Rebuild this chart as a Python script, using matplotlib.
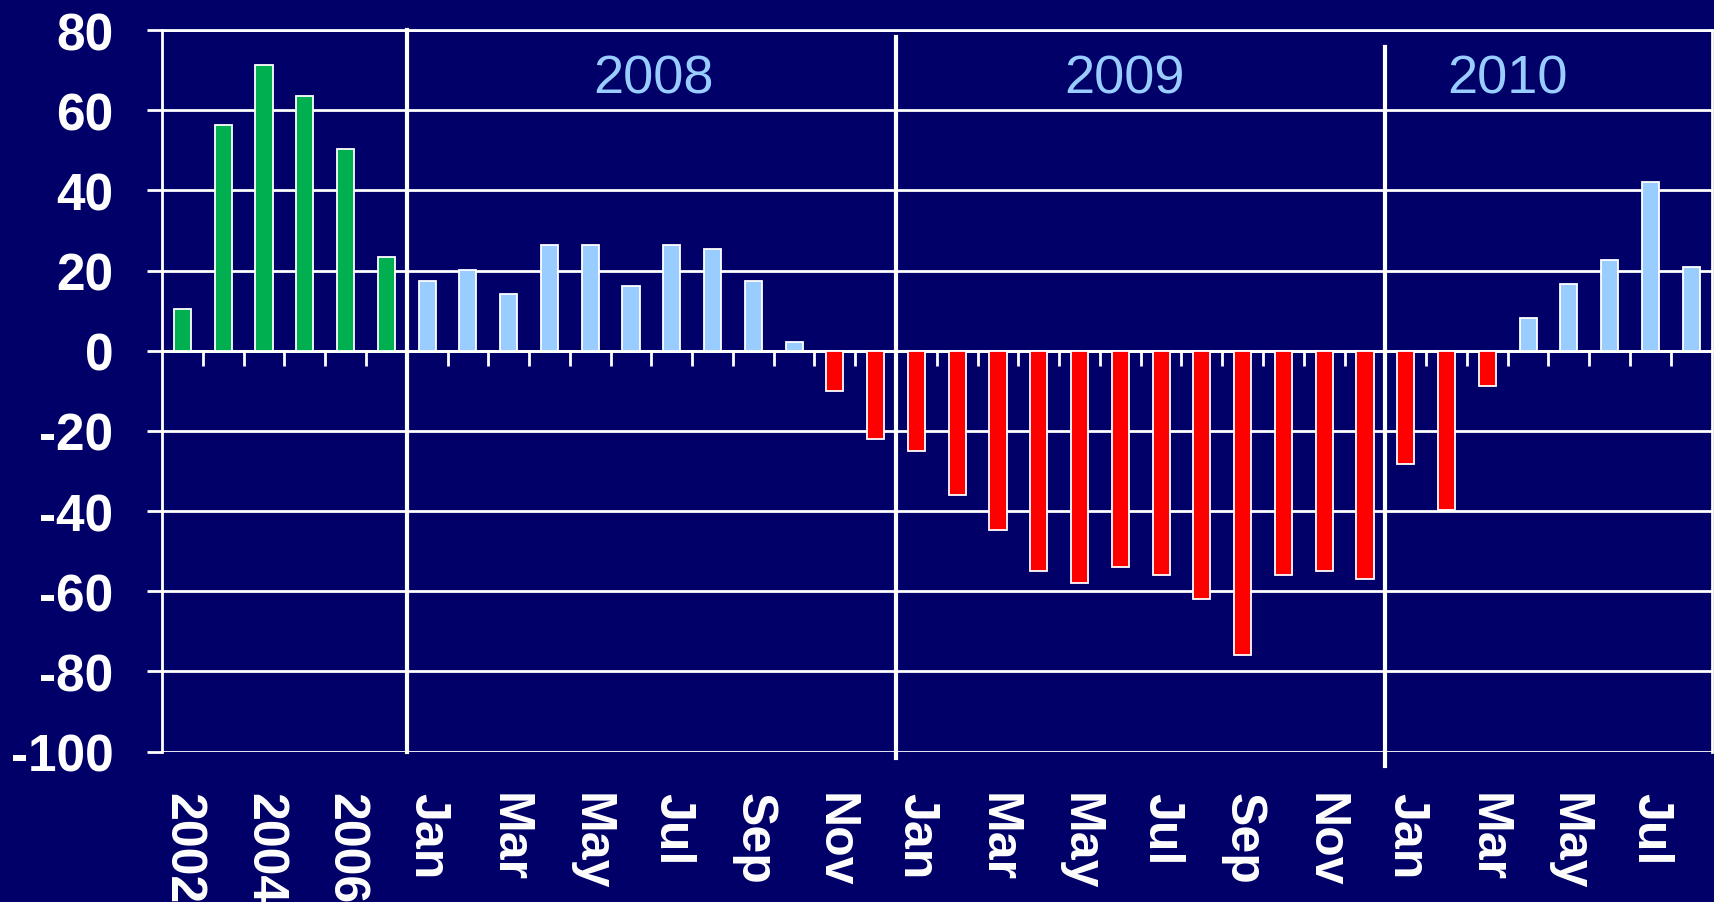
import matplotlib
matplotlib.use("Agg")
import matplotlib.pyplot as plt

plt.rcParams["axes.unicode_minus"] = False

# años completos (barras verdes) y luego meses
years = ["2002", "2003", "2004", "2005", "2006", "2007"]
year_values = [10.5, 56.4, 71.4, 63.5, 50.3, 23.3]

months = ["Jan", "Feb", "Mar", "Apr", "May", "Jun",
          "Jul", "Aug", "Sep", "Oct", "Nov", "Dec"]
values_2008 = [17.5, 20.2, 14.2, 26.4, 26.4, 16.1, 26.4, 25.4, 17.5, 2.1, -10.0, -22.0]
values_2009 = [-25.0, -36.0, -44.8, -55.0, -58.0, -54.0, -56.0, -62.0, -75.8, -56.0, -55.0, -57.0]
values_2010 = [-28.3, -39.8, -8.8, 8.3, 16.6, 22.6, 42.1, 21.0]

period_labels = ["2008", "2009", "2010"]

BG = "#000068"
GREEN = "#00B050"
LIGHT_BLUE = "#99CCFF"
RED = "#FF0000"
WHITE = "#FFFFFF"

values = year_values + values_2008 + values_2009 + values_2010
month_cats = months + months + months[:len(values_2010)]
labels = years + month_cats
n = len(values)
pos = list(range(n))

colors = [GREEN] * len(years) + [LIGHT_BLUE if v >= 0 else RED
                                 for v in values[len(years):]]

# solo se rotula una categoría de cada dos
shown = [lab if i % 2 == 0 else "" for i, lab in enumerate(labels)]

fig = plt.figure(figsize=(17.15, 9.03), dpi=100, facecolor=BG)
ax = fig.add_axes([0.0945, 0.1665, 0.9035, 0.799])
ax.set_facecolor(BG)

ax.set_xlim(-0.5, n - 0.5)
ax.set_ylim(-100, 80)

ax.set_yticks(range(-100, 81, 20))
ax.yaxis.grid(True, color=WHITE, linewidth=2)
ax.set_axisbelow(True)
ax.tick_params(axis="y", direction="out", length=11, width=2, color=WHITE,
               pad=24, labelsize=37, labelcolor=WHITE)
for t in ax.get_yticklabels():
    t.set_fontweight("bold")
    t.set_family("Liberation Sans")

ax.bar(pos, values, width=0.42, color=colors, edgecolor=WHITE,
       linewidth=1.3, zorder=3)

# eje x en cero con marcas entre categorías
ax.spines["bottom"].set_position(("data", 0))
ax.spines["bottom"].set_color(WHITE)
ax.spines["bottom"].set_linewidth(2)
ax.set_xticks([i + 0.5 for i in range(n - 1)])
ax.tick_params(axis="x", direction="out", length=11, width=2, color=WHITE,
               labelbottom=False)
for side in ["left", "right", "top"]:
    ax.spines[side].set_color(WHITE)
    ax.spines[side].set_linewidth(2)

# separadores de periodo
ax.plot([5.5, 5.5], [80, -100], color=WHITE, lw=3, zorder=4, clip_on=False)
ax.plot([17.5, 17.5], [78.3, -101.5], color=WHITE, lw=3, zorder=4, clip_on=False)
ax.plot([29.5, 29.5], [75.8, -103.5], color=WHITE, lw=3, zorder=4, clip_on=False)

for x, lab in zip([11.55, 23.1, 32.5], period_labels):
    ax.text(x, 68, lab, color=LIGHT_BLUE, fontsize=39, ha="center",
            va="center", family="Liberation Sans", zorder=5)

sec = ax.secondary_xaxis(0)
sec.set_xticks(pos)
sec.set_xticklabels(shown, rotation=270, fontsize=36, fontweight="bold",
                    color=WHITE, family="Liberation Sans", va="top", ha="center")
sec.tick_params(axis="x", length=0, pad=29)
sec.spines["bottom"].set_visible(False)

fig.savefig("out.png", dpi=100, facecolor=BG)
